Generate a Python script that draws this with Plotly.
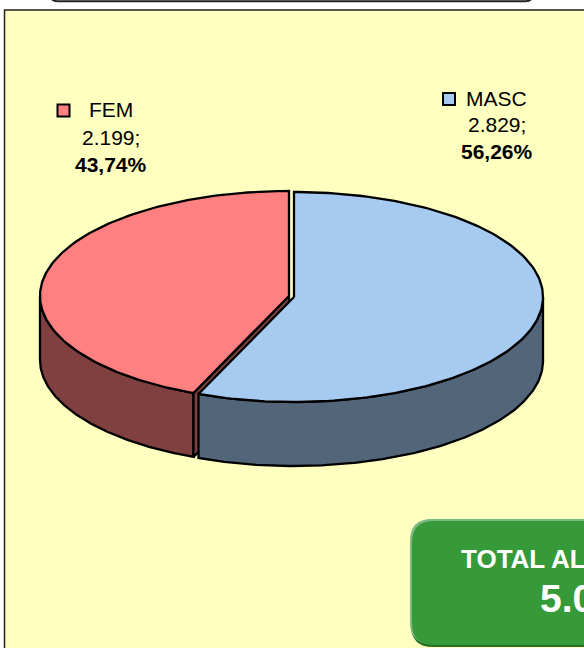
import numpy as np
import plotly.graph_objects as go

# ---- data ----
categories = ["MASC", "FEM"]
values = [2829, 2199]
value_labels = ["2.829;", "2.199;"]
percent_labels = ["56,26%", "43,74%"]
top_colors = ["#A6CAF0", "#FF8080"]
side_colors = ["#536579", "#804040"]
total_title = "TOTAL ALUNOS"
total_value = "5.028"

# ---- pie geometry (pixels, y downward) ----
RX, RY, DEPTH = 249, 105, 64
CENTERS = {"MASC": (294, 297), "FEM": (289, 296)}
BG = "#FFFFC0"
FONT = "Liberation Sans, Arial, sans-serif"

share = np.array(values) / sum(values)
end_masc = share[0] * 2 * np.pi  # clockwise from the top


def rim(c, a0, a1, n=180, dy=0):
    t = np.linspace(a0, a1, n)
    return c[0] + RX * np.sin(t), c[1] - RY * np.cos(t) + dy


def wall(c, a0, a1):
    x0, y0 = rim(c, a0, a1)
    x1, y1 = rim(c, a1, a0, dy=DEPTH)
    return np.r_[x0, x1, x0[0]], np.r_[y0, y1, y0[0]]


def sector(c, a0, a1):
    x, y = rim(c, a0, a1)
    return np.r_[c[0], x, c[0]], np.r_[c[1], y, c[1]]


def poly(x, y, fill):
    return go.Scatter(x=x, y=y, mode="lines", fill="toself", fillcolor=fill,
                      line=dict(color="black", width=2.3), hoverinfo="skip",
                      showlegend=False)


cm, cf = CENTERS["MASC"], CENTERS["FEM"]
fig = go.Figure()

# FEM: outer wall, cut face, top
fig.add_trace(poly(*wall(cf, end_masc, 1.5 * np.pi), side_colors[1]))
ex, ey = rim(cf, end_masc, end_masc, n=1)
fig.add_trace(poly([cf[0], ex[0], ex[0], cf[0], cf[0]],
                   [cf[1], ey[0], ey[0] + DEPTH, cf[1] + DEPTH, cf[1]], side_colors[1]))
fig.add_trace(poly(*sector(cf, end_masc, 2 * np.pi), top_colors[1]))
# MASC: outer wall, top
fig.add_trace(poly(*wall(cm, 0.5 * np.pi, end_masc), side_colors[0]))
fig.add_trace(poly(*sector(cm, 0, end_masc), top_colors[0]))

# legend swatches
fig.add_trace(go.Scatter(x=[449, 63.5], y=[99, 110.5], mode="markers", hoverinfo="skip",
                         showlegend=False,
                         marker=dict(symbol="square", size=12, color=top_colors,
                                     line=dict(color="black", width=2))))

shapes = [
    # chart frame
    dict(type="rect", x0=4.5, y0=10, x1=620, y1=680, layer="below",
         fillcolor=BG, line=dict(color="#222222", width=1.5)),
    # rounded box cut off by the top edge
    dict(type="path", layer="below",
         path="M 50 -20 L 50 -6 Q 50 1.2 58 1.2 L 525 1.2 Q 533 1.2 533 -6 L 533 -20 Z",
         fillcolor="white", line=dict(color="#222222", width=2)),
    # green total box: shadow, highlight, face
    dict(type="path", layer="below",
         path="M 433 522 L 640 522 L 640 647 L 433 647 Q 411 647 411 625 L 411 544 Q 411 522 433 522 Z",
         fillcolor="#2A6E2C", line=dict(width=0)),
    dict(type="path", layer="below",
         path="M 432 519 L 640 519 L 640 644 L 432 644 Q 410 644 410 622 L 410 541 Q 410 519 432 519 Z",
         fillcolor="#7DB882", line=dict(width=0)),
    dict(type="path", layer="below",
         path="M 434 521 L 640 521 L 640 645 L 434 645 Q 412 645 412 623 L 412 543 Q 412 521 434 521 Z",
         fillcolor="#359A37", line=dict(width=0)),
]


def label(x, y, text, size=21, bold=False, color="black", anchor="center"):
    return dict(x=x, y=y, xref="x", yref="y", text=f"<b>{text}</b>" if bold else text,
                showarrow=False, xanchor=anchor, yanchor="middle",
                font=dict(family=FONT, size=size, color=color))


annotations = [
    label(496, 98, categories[0]),
    label(497, 124, value_labels[0]),
    label(497, 151, percent_labels[0], bold=True),
    label(111, 109, categories[1]),
    label(111, 137, value_labels[1]),
    label(111, 164, percent_labels[1], bold=True),
    label(458.5, 559, total_title, size=26, bold=True, color="white", anchor="left"),
    label(538, 598, total_value, size=39, bold=True, color="white", anchor="left"),
]

fig.update_layout(
    width=584, height=648, margin=dict(l=0, r=0, t=0, b=0),
    paper_bgcolor="white", plot_bgcolor="white",
    xaxis=dict(range=[0, 584], visible=False, fixedrange=True),
    yaxis=dict(range=[648, 0], visible=False, fixedrange=True),
    shapes=shapes, annotations=annotations, showlegend=False,
)
fig.write_html("out.html", config={"displayModeBar": False},
               post_script="document.body.style.margin='0';document.body.style.overflow='hidden';")
